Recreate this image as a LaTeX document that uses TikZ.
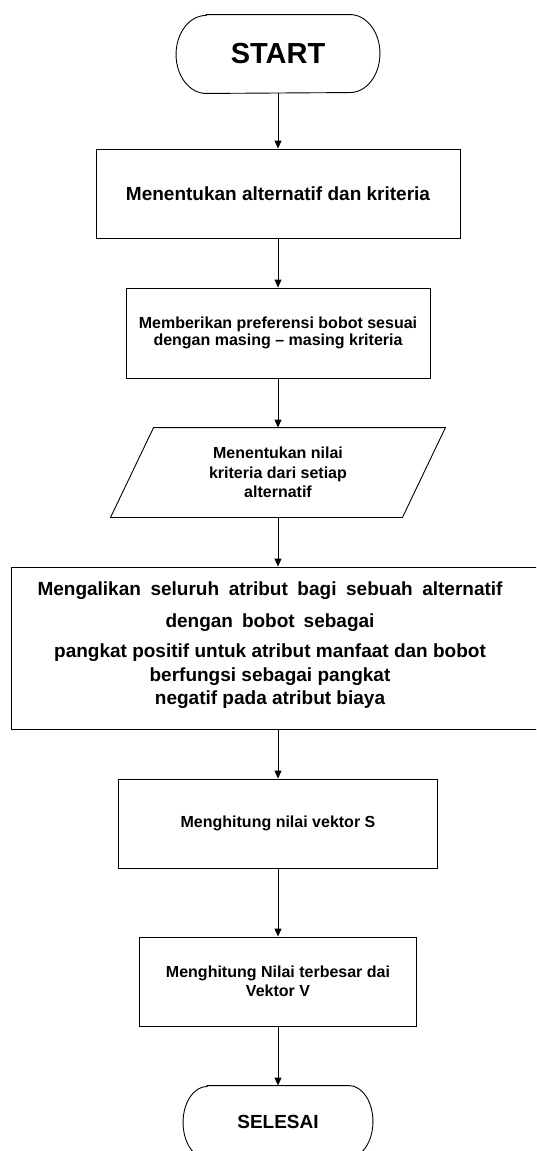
\documentclass[tikz,border=0pt]{standalone}
\usepackage{fontspec}
\setmainfont{Liberation Sans}
\usetikzlibrary{arrows.meta}
\newcommand\termpath[3]{\draw ([xshift=#2]#1.north west) -- ([xshift=-#2]#1.north east) arc[start angle=90,end angle=-90,x radius=#2,y radius=#3] -- ([xshift=#2]#1.south west) arc[start angle=270,end angle=90,x radius=#2,y radius=#3] -- cycle;}
\begin{document}
\begin{tikzpicture}[x=1pt,y=1pt,line width=0.9pt,
  flow/.style={-{Triangle[length=8pt,width=7pt]}},
  procbox/.style={draw, rectangle, inner sep=0pt, align=center},
  plain/.style={rectangle, inner sep=0pt, align=center},
  bigfont/.style={font=\fontsize{19}{23}\selectfont\bfseries},
  smallfont/.style={font=\fontsize{16}{19.5}\selectfont\bfseries}]
\useasboundingbox (0,0) rectangle (536,-1151);
\clip (0,0) rectangle (536,-1151);
% START
\node[plain, minimum width=203pt, minimum height=78pt, font=\fontsize{29}{34}\selectfont\bfseries] (start) at (278,-54) {START};
\termpath{start}{30pt}{39pt}
% box 1
\node[procbox, bigfont, minimum width=364pt, minimum height=89pt] (b1) at (278,-193.5) {Menentukan alternatif dan kriteria};
% box 2
\node[procbox, font=\fontsize{16}{17}\selectfont\bfseries, minimum width=304pt, minimum height=90pt] (b2) at (278,-333) {Memberikan preferensi bobot sesuai\\dengan masing – masing kriteria};
% parallelogram
\node[plain, smallfont, minimum width=334pt, minimum height=89pt] (para) at (278,-472.5) {Menentukan nilai\\kriteria dari setiap\\alternatif};
\draw ([xshift=43pt]para.north west) -- (para.north east) -- ([xshift=-43pt]para.south east) -- (para.south west) -- cycle;
% big box
\node[procbox, minimum width=534pt, minimum height=162pt] (big) at (278,-648) {};
\node[plain, font=\fontsize{19}{23.5}\selectfont\bfseries, anchor=north] (bigtext) at (270,-581) {\makebox[465pt][s]{Mengalikan seluruh atribut bagi sebuah alternatif}\\[8.5pt]
\makebox[209pt][s]{dengan bobot sebagai}\\[7pt]
pangkat positif untuk atribut manfaat dan bobot\\
berfungsi sebagai pangkat\\
negatif pada atribut biaya};
% vektor S
\node[procbox, smallfont, minimum width=319pt, minimum height=89pt] (vs) at (278,-823.5) {Menghitung nilai vektor S};
% vektor V
\node[procbox, smallfont, minimum width=277pt, minimum height=89pt] (vv) at (278,-981.5) {Menghitung Nilai terbesar dai\\Vektor V};
% SELESAI
\node[plain, bigfont, minimum width=189pt, minimum height=72pt] (end) at (278,-1122) {SELESAI};
\termpath{end}{24pt}{36pt}
% connectors
\draw[flow] (start.south) -- (b1.north);
\draw[flow] (b1.south) -- (b2.north);
\draw[flow] (b2.south) -- (para.north);
\draw[flow] (para.south) -- (big.north);
\draw[flow] (big.south) -- (vs.north);
\draw[flow] (vs.south) -- (vv.north);
\draw[flow] (vv.south) -- (end.north);
\end{tikzpicture}
\end{document}
